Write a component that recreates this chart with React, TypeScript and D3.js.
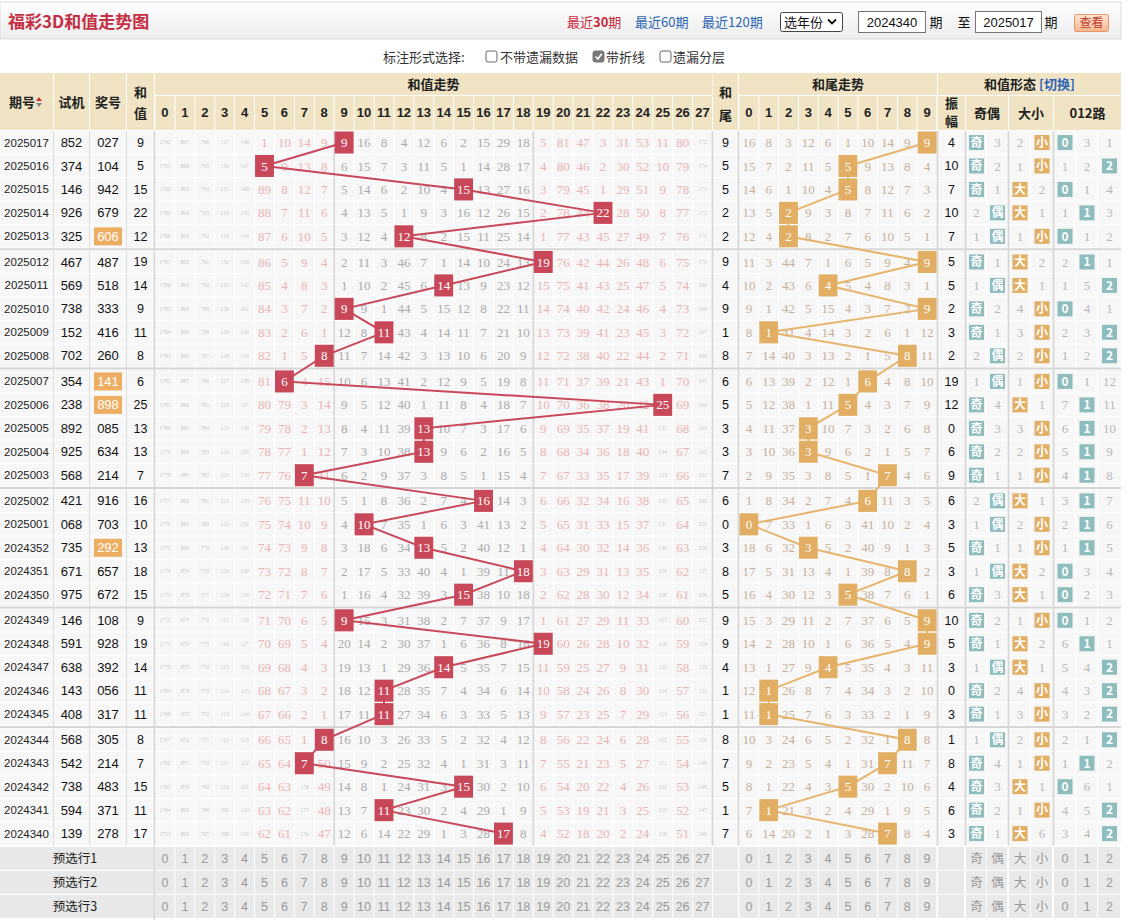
import React from 'react';
import * as d3 from 'd3';

// 期号 / 试机 / 奖号 / 和值 / 和尾 / 振幅 (top row = latest)
const periods = ['2025017', '2025016', '2025015', '2025014', '2025013', '2025012', '2025011', '2025010', '2025009', '2025008',
  '2025007', '2025006', '2025005', '2025004', '2025003', '2025002', '2025001', '2024352', '2024351', '2024350',
  '2024349', '2024348', '2024347', '2024346', '2024345', '2024344', '2024343', '2024342', '2024341', '2024340'];
const trials = ['852', '374', '146', '926', '325', '467', '569', '738', '152', '702', '354', '238', '892', '925', '568',
  '421', '068', '735', '671', '975', '146', '591', '638', '143', '408', '568', '542', '738', '594', '139'];
const draws = ['027', '104', '942', '679', '606', '487', '518', '333', '416', '260', '141', '898', '085', '634', '214',
  '916', '703', '292', '657', '672', '108', '928', '392', '056', '317', '305', '214', '483', '371', '278'];
const sums = [9, 5, 15, 22, 12, 19, 14, 9, 11, 8, 6, 25, 13, 13, 7, 16, 10, 13, 18, 15, 9, 19, 14, 11, 11, 8, 7, 15, 11, 17];
const tails = [9, 5, 5, 2, 2, 9, 4, 9, 1, 8, 6, 5, 3, 3, 7, 6, 0, 3, 8, 5, 9, 9, 4, 1, 1, 8, 7, 5, 1, 7];
const amplitudes = [4, 10, 7, 10, 7, 5, 5, 2, 3, 2, 19, 12, 0, 6, 9, 6, 3, 5, 3, 6, 10, 5, 3, 0, 3, 1, 8, 4, 6, 3];
const highlightedDraws = ['2025013', '2025007', '2025006', '2024352'];

const sumCols = [0, 1, 2, 3, 4, 5, 6, 7, 8, 9, 10, 11, 12, 13, 14, 15, 16, 17, 18, 19, 20, 21, 22, 23, 24, 25, 26, 27];
const tailCols = [0, 1, 2, 3, 4, 5, 6, 7, 8, 9];

// 和值走势 missing counts, "*" = hit
const sumMiss = [
  '1792 897 796 137 148 1 10 14 9 * 16 8 4 12 6 2 15 29 18 5 81 47 3 31 53 11 80 175',
  '1791 896 795 136 147 * 9 13 8 6 15 7 3 11 5 1 14 28 17 4 80 46 2 30 52 10 79 174',
  '1790 895 794 135 146 89 8 12 7 5 14 6 2 10 4 * 13 27 16 3 79 45 1 29 51 9 78 173',
  '1789 894 793 134 145 88 7 11 6 4 13 5 1 9 3 16 12 26 15 2 78 44 * 28 50 8 77 172',
  '1788 893 792 133 144 87 6 10 5 3 12 4 * 8 2 15 11 25 14 1 77 43 45 27 49 7 76 171',
  '1787 892 791 132 143 86 5 9 4 2 11 3 46 7 1 14 10 24 13 * 76 42 44 26 48 6 75 170',
  '1786 891 790 131 142 85 4 8 3 1 10 2 45 6 * 13 9 23 12 15 75 41 43 25 47 5 74 169',
  '1785 890 789 130 141 84 3 7 2 * 9 1 44 5 15 12 8 22 11 14 74 40 42 24 46 4 73 168',
  '1784 889 788 129 140 83 2 6 1 12 8 * 43 4 14 11 7 21 10 13 73 39 41 23 45 3 72 167',
  '1783 888 787 128 139 82 1 5 * 11 7 14 42 3 13 10 6 20 9 12 72 38 40 22 44 2 71 166',
  '1782 887 786 127 138 81 * 4 15 10 6 13 41 2 12 9 5 19 8 11 71 37 39 21 43 1 70 165',
  '1781 886 785 126 137 80 79 3 14 9 5 12 40 1 11 8 4 18 7 10 70 36 38 20 42 * 69 164',
  '1780 885 784 125 136 79 78 2 13 8 4 11 39 * 10 7 3 17 6 9 69 35 37 19 41 135 68 163',
  '1779 884 783 124 135 78 77 1 12 7 3 10 38 * 9 6 2 16 5 8 68 34 36 18 40 134 67 162',
  '1778 883 782 123 134 77 76 * 11 6 2 9 37 3 8 5 1 15 4 7 67 33 35 17 39 133 66 161',
  '1777 882 781 122 133 76 75 11 10 5 1 8 36 2 7 4 * 14 3 6 66 32 34 16 38 132 65 160',
  '1776 881 780 121 132 75 74 10 9 4 * 7 35 1 6 3 41 13 2 5 65 31 33 15 37 131 64 159',
  '1775 880 779 120 131 74 73 9 8 3 18 6 34 * 5 2 40 12 1 4 64 30 32 14 36 130 63 158',
  '1774 879 778 119 130 73 72 8 7 2 17 5 33 40 4 1 39 11 * 3 63 29 31 13 35 129 62 157',
  '1773 878 777 118 129 72 71 7 6 1 16 4 32 39 3 * 38 10 18 2 62 28 30 12 34 128 61 156',
  '1772 877 776 117 128 71 70 6 5 * 15 3 31 38 2 7 37 9 17 1 61 27 29 11 33 127 60 155',
  '1771 876 775 116 127 70 69 5 4 20 14 2 30 37 1 6 36 8 16 * 60 26 28 10 32 126 59 154',
  '1770 875 774 115 126 69 68 4 3 19 13 1 29 36 * 5 35 7 15 11 59 25 27 9 31 125 58 153',
  '1769 874 773 114 125 68 67 3 2 18 12 * 28 35 7 4 34 6 14 10 58 24 26 8 30 124 57 152',
  '1768 873 772 113 124 67 66 2 1 17 11 * 27 34 6 3 33 5 13 9 57 23 25 7 29 123 56 151',
  '1767 872 771 112 123 66 65 1 * 16 10 3 26 33 5 2 32 4 12 8 56 22 24 6 28 122 55 150',
  '1766 871 770 111 122 65 64 * 50 15 9 2 25 32 4 1 31 3 11 7 55 21 23 5 27 121 54 149',
  '1765 870 769 110 121 64 63 178 49 14 8 1 24 31 3 * 30 2 10 6 54 20 22 4 26 120 53 148',
  '1764 869 768 109 120 63 62 177 48 13 7 * 23 30 2 4 29 1 9 5 53 19 21 3 25 119 52 147',
  '1763 868 767 108 119 62 61 176 47 12 6 14 22 29 1 3 28 * 8 4 52 18 20 2 24 118 51 146',
];

// 和尾走势 missing counts
const tailMiss = [
  '16 8 3 12 6 1 10 14 9 *', '15 7 2 11 5 * 9 13 8 4', '14 6 1 10 4 * 8 12 7 3', '13 5 * 9 3 8 7 11 6 2',
  '12 4 * 8 2 7 6 10 5 1', '11 3 44 7 1 6 5 9 4 *', '10 2 43 6 * 5 4 8 3 1', '9 1 42 5 15 4 3 7 2 *',
  '8 * 41 4 14 3 2 6 1 12', '7 14 40 3 13 2 1 5 * 11', '6 13 39 2 12 1 * 4 8 10', '5 12 38 1 11 * 4 3 7 9',
  '4 11 37 * 10 7 3 2 6 8', '3 10 36 * 9 6 2 1 5 7', '2 9 35 3 8 5 1 * 4 6', '1 8 34 2 7 4 * 11 3 5',
  '* 7 33 1 6 3 41 10 2 4', '18 6 32 * 5 2 40 9 1 3', '17 5 31 13 4 1 39 8 * 2', '16 4 30 12 3 * 38 7 6 1',
  '15 3 29 11 2 7 37 6 5 *', '14 2 28 10 1 6 36 5 4 *', '13 1 27 9 * 5 35 4 3 11', '12 * 26 8 7 4 34 3 2 10',
  '11 * 25 7 6 3 33 2 1 9', '10 3 24 6 5 2 32 1 * 8', '9 2 23 5 4 1 31 * 11 7', '8 1 22 4 3 * 30 2 10 6',
  '7 * 21 3 2 4 29 1 9 5', '6 14 20 2 1 3 28 * 8 4',
];

// 和值形态: 奇偶 / 大小 / 012路, "*" marks the hit
const oddEven = ['*奇 3', '*奇 2', '*奇 1', '2 *偶', '1 *偶', '*奇 1', '1 *偶', '*奇 2', '*奇 1', '2 *偶',
  '1 *偶', '*奇 4', '*奇 3', '*奇 2', '*奇 1', '2 *偶', '1 *偶', '*奇 1', '1 *偶', '*奇 3',
  '*奇 2', '*奇 1', '1 *偶', '*奇 2', '*奇 1', '1 *偶', '*奇 4', '*奇 3', '*奇 2', '*奇 1'];
const bigSmall = ['2 *小', '1 *小', '*大 2', '*大 1', '1 *小', '*大 2', '*大 1', '4 *小', '3 *小', '2 *小',
  '1 *小', '*大 1', '3 *小', '2 *小', '1 *小', '*大 1', '2 *小', '1 *小', '*大 2', '*大 1',
  '1 *小', '*大 2', '*大 1', '4 *小', '3 *小', '2 *小', '1 *小', '*大 1', '1 *小', '*大 6'];
const roads = ['*0 3 1', '1 2 *2', '*0 1 4', '1 *1 3', '*0 1 2', '2 *1 1', '1 5 *2', '*0 4 1', '2 3 *2', '1 2 *2',
  '*0 1 12', '7 *1 11', '6 *1 10', '5 *1 9', '4 *1 8', '3 *1 7', '2 *1 6', '1 *1 5', '*0 3 4', '*0 2 3',
  '*0 1 2', '6 *1 1', '5 4 *2', '4 3 *2', '3 2 *2', '2 1 *2', '1 *1 2', '*0 6 1', '4 5 *2', '3 4 *2'];

const previewRows = ['预选行1', '预选行2', '预选行3'];
const formLabels = ['奇', '偶', '大', '小', '0', '1', '2'];

const CJK = '"Noto Sans CJK SC", "Microsoft YaHei", sans-serif';
const NUM = '"Liberation Serif", serif';
const SANS = '"Liberation Sans", Arial, sans-serif';

const HEAD = '#f0e4c4';
const CELL = '#f7f7f7';
const SEP = '#d6d6d6';
const RED = '#c84859';
const GOLD = '#e1ae63';
const TEAL = '#8dbdbe';

const App = () => {
  const W = 1121;
  const RH = 23.45;
  const xSum = d3.scaleBand<number>().domain(sumCols).range([155, 712.5]);
  const xTail = d3.scaleBand<number>().domain(tailCols).range([739, 937]);
  const rowScale = d3.scaleLinear().domain([0, 1]).range([131.3, 131.3 + RH]);
  const top = (r: number) => rowScale(r) + Math.floor(r / 5) * 2.2;
  const mid = (r: number) => top(r) + RH / 2 - 0.5;
  const sw = xSum.bandwidth();
  const tw = xTail.bandwidth();

  const leftCols: [number, number][] = [[0, 53], [54, 89], [90, 126], [127, 154]];
  // 振幅, 奇, 偶, 大, 小, 0, 1, 2
  const formCols: [number, number][] = [[938, 965], [966, 987], [987, 1008], [1009, 1031], [1031, 1053],
    [1054, 1076], [1076, 1098], [1098, 1121]];
  const cx = (c: [number, number]) => (c[0] + c[1]) / 2;

  const lastRow = sums.length - 1;
  const dataBottom = top(lastRow) + RH;
  const prevTop = dataBottom + 1;
  const PH = 24;

  const line = d3.line<[number, number]>().x(d => d[0]).y(d => d[1]);
  const sumPath = line(sums.map((s, r) => [xSum(s)! + sw / 2, mid(r)] as [number, number]));
  const tailPath = line(tails.map((t, r) => [xTail(t)! + tw / 2, mid(r)] as [number, number]));

  const vWhite: number[] = [
    ...leftCols.map(c => c[1] + 0.5),
    ...sumCols.map(c => xSum(c)!),
    712.5, 738.5,
    ...tailCols.map(c => xTail(c)!),
    ...formCols.map(c => c[0] - 0.5),
  ];
  const vGray = [154.5, xSum(9)!, xSum(19)!, 712.5, 738.5, 937.5, 965.5, 1008.5, 1053.5];
  const vLeft = [53.5, 89.5, 126.5];

  const formBox = (x: number, y: number, label: string, fill: string, key: string) => (
    <g key={key}>
      <rect x={x - 7.5} y={y - 7.5} width={15} height={15} fill={fill} />
      <text x={x} y={y} dy="0.36em" textAnchor="middle" fontFamily={CJK} fontSize={12} fontWeight="bold" fill="#fff">{label}</text>
    </g>
  );

  const checkbox = (x: number, checked: boolean) => (
    <g>
      <rect x={x} y={51} width={11} height={11} rx={2} fill={checked ? '#777' : '#fff'} stroke={checked ? '#777' : '#666'} />
      {checked && <path d={`M${x + 2.5},${56.5} L${x + 4.8},${59} L${x + 8.8},${53.8}`} stroke="#fff" strokeWidth={1.6} fill="none" />}
    </g>
  );

  return (
    <svg width={1128} height={920} style={{ position: 'absolute', left: 0, top: 0, background: '#fff' }}>
      <defs>
        <linearGradient id="bar" x1="0" y1="0" x2="0" y2="1">
          <stop offset="0" stopColor="#ffffff" />
          <stop offset="1" stopColor="#ececec" />
        </linearGradient>
        <linearGradient id="btn" x1="0" y1="0" x2="0" y2="1">
          <stop offset="0" stopColor="#fde6d4" />
          <stop offset="1" stopColor="#f5b78e" />
        </linearGradient>
      </defs>

      {/* title bar */}
      <rect x={0} y={2} width={W} height={37} fill="url(#bar)" stroke="#dcdcdc" />
      <text x={8} y={28} fontFamily={CJK} fontSize={17} fontWeight="bold" fill="#c42f43">福彩3D和值走势图</text>
      <text x={567} y={27} fontFamily={CJK} fontSize={13} fill="#c8283c">最近<tspan fontWeight="bold">30</tspan>期</text>
      <text x={635} y={27} fontFamily={CJK} fontSize={13} fill="#2a64b4">最近60期</text>
      <text x={702} y={27} fontFamily={CJK} fontSize={13} fill="#2a64b4">最近120期</text>
      <rect x={780.5} y={12.5} width={62} height={19} rx={2} fill="#fff" stroke="#444" />
      <text x={784} y={27} fontFamily={CJK} fontSize={13} fill="#111">选年份</text>
      <path d="M828,19.5 L832,23.5 L836,19.5" stroke="#111" strokeWidth={1.8} fill="none" />
      <rect x={858.5} y={11.5} width={67} height={21} fill="#fff" stroke="#777" />
      <text x={892} y={27} textAnchor="middle" fontFamily={SANS} fontSize={13} fill="#111">2024340</text>
      <text x={936} y={27} textAnchor="middle" fontFamily={CJK} fontSize={13} fill="#111">期</text>
      <text x={964} y={27} textAnchor="middle" fontFamily={CJK} fontSize={13} fill="#111">至</text>
      <rect x={975.5} y={11.5} width={66} height={21} fill="#fff" stroke="#777" />
      <text x={1008.5} y={27} textAnchor="middle" fontFamily={SANS} fontSize={13} fill="#111">2025017</text>
      <text x={1051} y={27} textAnchor="middle" fontFamily={CJK} fontSize={13} fill="#111">期</text>
      <rect x={1074.5} y={14.5} width={34} height={17} rx={2} fill="url(#btn)" stroke="#e8946a" />
      <text x={1091.5} y={27} textAnchor="middle" fontFamily={CJK} fontSize={12} fill="#c0392b">查看</text>

      {/* option bar */}
      <text x={383} y={62} fontFamily={CJK} fontSize={13} fill="#333">标注形式选择:</text>
      {checkbox(486, false)}
      <text x={500} y={62} fontFamily={CJK} fontSize={13} fill="#333">不带遗漏数据</text>
      {checkbox(593, true)}
      <text x={606} y={62} fontFamily={CJK} fontSize={13} fill="#333">带折线</text>
      {checkbox(660, false)}
      <text x={673} y={62} fontFamily={CJK} fontSize={13} fill="#333">遗漏分层</text>

      {/* header */}
      <g fontFamily={CJK} fontWeight="bold" fontSize={13} fill="#222">
        {leftCols.map((c, i) => (
          <rect key={'lh' + i} x={c[0]} y={73} width={c[1] - c[0]} height={57} fill={HEAD} />
        ))}
        <text x={22} y={107} textAnchor="middle">期号</text>
        <path d="M36,101 L42,101 L39,97 Z" fill="#d0303c" />
        <path d="M36,103 L42,103 L39,107 Z" fill="#888" />
        <text x={cx(leftCols[1])} y={107} textAnchor="middle">试机</text>
        <text x={cx(leftCols[2])} y={107} textAnchor="middle">奖号</text>
        <text x={cx(leftCols[3])} y={97} textAnchor="middle">和</text>
        <text x={cx(leftCols[3])} y={118} textAnchor="middle">值</text>

        <rect x={155} y={73} width={557.5} height={22} fill={HEAD} />
        <text x={433.5} y={89} textAnchor="middle">和值走势</text>
        {sumCols.map(c => (
          <g key={'sh' + c}>
            <rect x={xSum(c)! + 0.5} y={96} width={sw - 1} height={34} fill={HEAD} />
            <text x={xSum(c)! + sw / 2} y={117} textAnchor="middle" fontFamily={SANS}>{c}</text>
          </g>
        ))}
        <rect x={713} y={73} width={25} height={57} fill={HEAD} />
        <text x={725.5} y={97} textAnchor="middle">和</text>
        <text x={725.5} y={120} textAnchor="middle">尾</text>
        <rect x={739} y={73} width={198} height={22} fill={HEAD} />
        <text x={838} y={89} textAnchor="middle">和尾走势</text>
        {tailCols.map(c => (
          <g key={'th' + c}>
            <rect x={xTail(c)! + 0.5} y={96} width={tw - 1} height={34} fill={HEAD} />
            <text x={xTail(c)! + tw / 2} y={117} textAnchor="middle" fontFamily={SANS}>{c}</text>
          </g>
        ))}
        <rect x={938} y={73} width={183} height={22} fill={HEAD} />
        <text x={1029.5} y={89} textAnchor="middle">和值形态 <tspan fill="#2f63b6">[切换]</tspan></text>
        <rect x={938} y={96} width={27} height={34} fill={HEAD} />
        <text x={951.5} y={108} textAnchor="middle">振</text>
        <text x={951.5} y={126} textAnchor="middle">幅</text>
        <rect x={966} y={96} width={42} height={34} fill={HEAD} />
        <text x={987} y={118} textAnchor="middle">奇偶</text>
        <rect x={1009} y={96} width={44} height={34} fill={HEAD} />
        <text x={1031} y={118} textAnchor="middle">大小</text>
        <rect x={1054} y={96} width={67} height={34} fill={HEAD} />
        <text x={1087.5} y={118} textAnchor="middle">012路</text>
      </g>

      {/* data rows */}
      {sums.map((s, r) => (
        <rect key={'bg' + r} x={0} y={top(r)} width={W} height={RH - 1} fill={CELL} />
      ))}
      {vWhite.map((x, i) => (
        <line key={'vw' + i} x1={x} x2={x} y1={131} y2={dataBottom} stroke="#fff" strokeWidth={1} />
      ))}
      {vLeft.map((x, i) => (
        <line key={'vl' + i} x1={x} x2={x} y1={131} y2={dataBottom} stroke="#dedede" strokeWidth={1} />
      ))}
      {vGray.map((x, i) => (
        <line key={'vg' + i} x1={x} x2={x} y1={131} y2={dataBottom} stroke={SEP} strokeWidth={1.6} />
      ))}
      {[5, 10, 15, 20, 25].map(r => (
        <line key={'hg' + r} x1={0} x2={W} y1={top(r) - 1.6} y2={top(r) - 1.6} stroke={SEP} strokeWidth={2} />
      ))}

      {/* left info columns */}
      {periods.map((p, r) => {
        const y = mid(r);
        const hl = highlightedDraws.includes(p);
        return (
          <g key={'info' + r}>
            <text x={cx(leftCols[0])} y={y} dy="0.35em" textAnchor="middle" fontFamily={SANS} fontSize={11.5} fill="#222">{p}</text>
            <text x={cx(leftCols[1])} y={y} dy="0.35em" textAnchor="middle" fontFamily={SANS} fontSize={13} fill="#111">{trials[r]}</text>
            {hl && <rect x={cx(leftCols[2]) - 14} y={y - 9} width={28} height={18} fill="#eeae62" />}
            <text x={cx(leftCols[2])} y={y} dy="0.35em" textAnchor="middle" fontFamily={SANS} fontSize={13} fill={hl ? '#fff' : '#111'}>{draws[r]}</text>
            <text x={cx(leftCols[3])} y={y} dy="0.35em" textAnchor="middle" fontFamily={SANS} fontSize={12.5} fill="#111">{sums[r]}</text>
            <text x={725.5} y={y} dy="0.35em" textAnchor="middle" fontFamily={SANS} fontSize={12.5} fill="#111">{tails[r]}</text>
            <text x={cx(formCols[0])} y={y} dy="0.35em" textAnchor="middle" fontFamily={SANS} fontSize={12.5} fill="#111">{amplitudes[r]}</text>
          </g>
        );
      })}

      {/* missing values */}
      {sumMiss.map((row, r) => row.split(' ').map((v, c) => {
        if (v === '*') return null;
        const big = +v >= 100;
        const inner = c >= 9 && c <= 18;
        return (
          <text key={`sm${r}-${c}`} x={xSum(c)! + sw / 2} y={mid(r)} dy="0.35em" textAnchor="middle"
            fontFamily={NUM} fontSize={big ? 5.5 : 13} fill={big ? '#cdcdcd' : inner ? '#ababab' : '#ebb4b4'}>{v}</text>
        );
      }))}
      {tailMiss.map((row, r) => row.split(' ').map((v, c) => v === '*' ? null : (
        <text key={`tm${r}-${c}`} x={xTail(c)! + tw / 2} y={mid(r)} dy="0.35em" textAnchor="middle"
          fontFamily={NUM} fontSize={13} fill="#c7b09b">{v}</text>
      )))}

      {/* trend lines */}
      <path d={sumPath || ''} fill="none" stroke={RED} strokeWidth={2} />
      <path d={tailPath || ''} fill="none" stroke="#e6b46c" strokeWidth={2} />

      {sums.map((s, r) => (
        <g key={'sh' + r}>
          <rect x={xSum(s)! + 0.5} y={top(r) + 0.2} width={sw - 1} height={RH - 1.4} fill={RED} />
          <text x={xSum(s)! + sw / 2} y={mid(r)} dy="0.35em" textAnchor="middle" fontFamily={NUM} fontSize={13} fill="#fff">{s}</text>
        </g>
      ))}
      {tails.map((t, r) => (
        <g key={'th' + r}>
          <rect x={xTail(t)! + 0.5} y={top(r) + 0.2} width={tw - 1} height={RH - 1.4} fill={GOLD} />
          <text x={xTail(t)! + tw / 2} y={mid(r)} dy="0.35em" textAnchor="middle" fontFamily={NUM} fontSize={13} fill="#fff">{t}</text>
        </g>
      ))}

      {/* form columns */}
      {sums.map((s, r) => {
        const y = mid(r);
        const cells = [
          ...oddEven[r].split(' ').map(v => ({ v, fill: TEAL })),
          ...bigSmall[r].split(' ').map(v => ({ v, fill: GOLD })),
          ...roads[r].split(' ').map(v => ({ v, fill: TEAL })),
        ];
        return (
          <g key={'form' + r}>
            {cells.map((cell, i) => {
              const x = cx(formCols[i + 1]);
              if (cell.v.startsWith('*')) return formBox(x, y, cell.v.slice(1), cell.fill, 'fb' + i);
              return (
                <text key={'ft' + i} x={x} y={y} dy="0.35em" textAnchor="middle" fontFamily={NUM} fontSize={13} fill="#b9b9b9">{cell.v}</text>
              );
            })}
          </g>
        );
      })}

      {/* preview rows */}
      {previewRows.map((label, i) => {
        const y0 = prevTop + i * PH;
        const y = y0 + PH / 2 - 0.5;
        return (
          <g key={'pv' + i}>
            <rect x={0} y={y0} width={154} height={PH - 1} fill="#e8e8e8" />
            <text x={75} y={y} dy="0.35em" textAnchor="middle" fontFamily={CJK} fontSize={12.5} fill="#222">{label}</text>
            {sumCols.map(c => (
              <g key={'pvs' + c}>
                <rect x={xSum(c)! + 0.5} y={y0} width={sw - 1} height={PH - 1} fill="#e9e9e9" />
                <text x={xSum(c)! + sw / 2} y={y} dy="0.35em" textAnchor="middle" fontFamily={SANS} fontSize={12.5} fill="#999">{c}</text>
              </g>
            ))}
            <rect x={713} y={y0} width={25} height={PH - 1} fill="#e9e9e9" />
            {tailCols.map(c => (
              <g key={'pvt' + c}>
                <rect x={xTail(c)! + 0.5} y={y0} width={tw - 1} height={PH - 1} fill="#e9e9e9" />
                <text x={xTail(c)! + tw / 2} y={y} dy="0.35em" textAnchor="middle" fontFamily={SANS} fontSize={12.5} fill="#999">{c}</text>
              </g>
            ))}
            {formCols.map((fc, k) => (
              <g key={'pvf' + k}>
                <rect x={fc[0]} y={y0} width={fc[1] - fc[0] - 1} height={PH - 1} fill="#e9e9e9" />
                {k > 0 && (
                  <text x={cx(fc)} y={y} dy="0.35em" textAnchor="middle" fontFamily={k > 4 ? SANS : CJK} fontSize={12.5} fill="#999">{formLabels[k - 1]}</text>
                )}
              </g>
            ))}
          </g>
        );
      })}
      <line x1={154.5} x2={154.5} y1={prevTop} y2={920} stroke={SEP} strokeWidth={1.6} />
    </svg>
  );
};

export default App;
